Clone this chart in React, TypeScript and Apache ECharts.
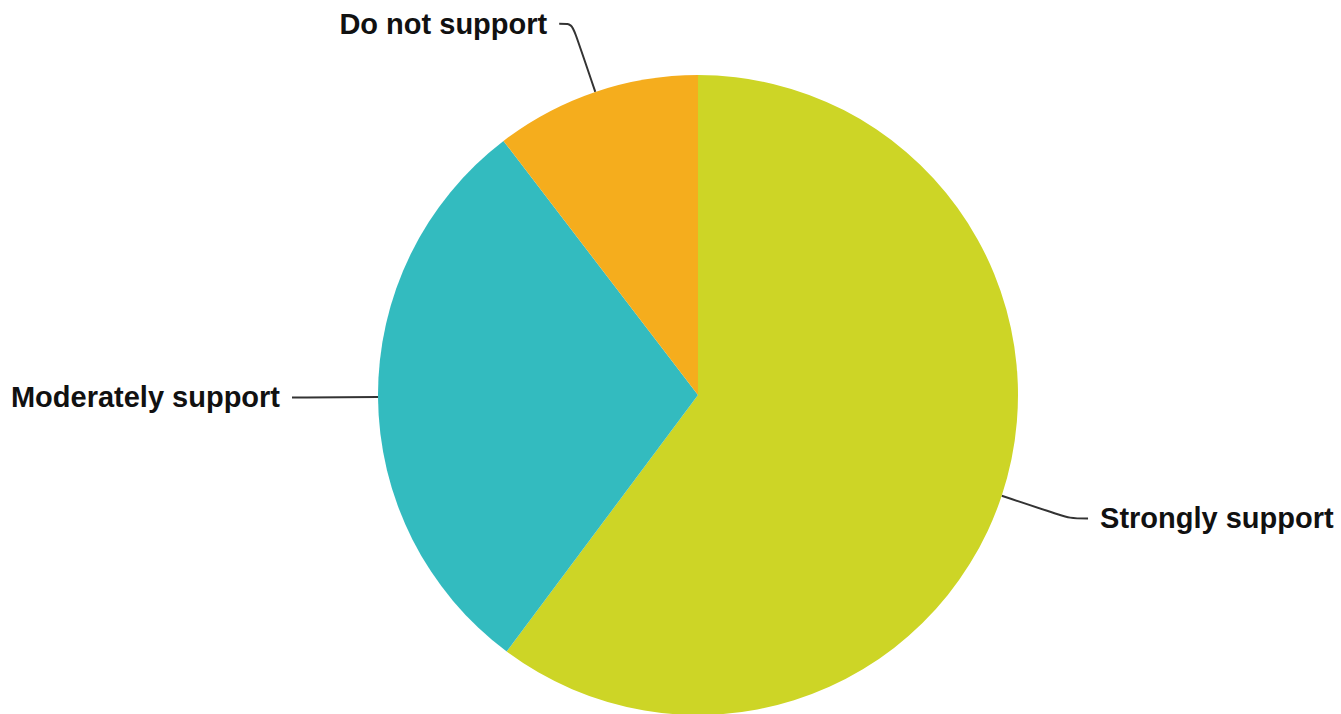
import React, { useEffect, useRef } from "react";
import * as echarts from "echarts";

const categories = ["Strongly support", "Moderately support", "Do not support"];
const values = [60.2, 29.4, 10.4];
const colors = ["#CDD526", "#33BBBF", "#F5AD1D"];
const labelLine2 = [18, 14, 13];

export default function App() {
  const ref = useRef<HTMLDivElement>(null);
  useEffect(() => {
    document.body.style.margin = "0";
    const chart = echarts.init(ref.current!, null, { renderer: "svg" });
    chart.setOption({
      animation: false,
      backgroundColor: "#ffffff",
      series: [
        {
          type: "pie",
          center: [698, 395],
          radius: 320,
          startAngle: 90,
          clockwise: true,
          avoidLabelOverlap: false,
          emphasis: { disabled: true },
          label: {
            show: true,
            position: "outside",
            fontFamily: "Liberation Sans, Arial, sans-serif",
            fontWeight: "bold",
            fontSize: 29,
            color: "#111111",
            distanceToLabelLine: 12,
          },
          labelLine: {
            show: true,
            length: 72,
            length2: 14,
            smooth: 0.3,
            lineStyle: { color: "#333333", width: 2 },
          },
          data: categories.map((name, i) => ({
            name,
            value: values[i],
            itemStyle: { color: colors[i] },
            labelLine: { length2: labelLine2[i] },
          })),
        },
      ],
    });
    return () => chart.dispose();
  }, []);
  return (
    <div
      ref={ref}
      style={{ position: "fixed", left: 0, top: 0, width: 1341, height: 714 }}
    />
  );
}
